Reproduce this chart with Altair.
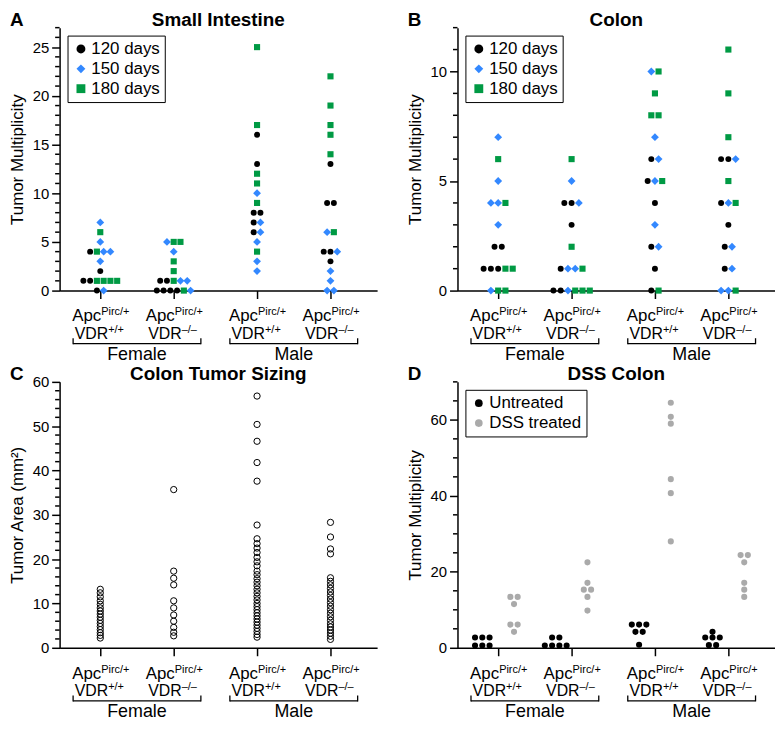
import altair as alt
import pandas as pd

FONT = "Liberation Sans"

# ---------------- categories ----------------
GENOTYPES = ["F+/+", "F-/-", "M+/+", "M-/-"]
GENO_POS = [1.0, 2.0, 3.135, 4.135]
X_DOMAIN = [0.446, 4.77]
SUP_VDR = ["+/+", "\u2013/\u2013", "+/+", "\u2013/\u2013"]
SEXES = ["Female", "Male"]

AGES = ["120 days", "150 days", "180 days"]
AGE_CODE = {"k": "120 days", "b": "150 days", "g": "180 days"}
AGE_COLORS = ["#000000", "#3388ff", "#009a44"]
AGE_SHAPES = ["circle", "diamond", "square"]
AGE_SIZES = [36, 62, 38]

TREATMENTS = ["Untreated", "DSS treated"]
TRT_COLORS = ["#000000", "#aaaaaa"]

# ---------------- A: small intestine (value -> ages, left to right) ----------------
SI_F_WT = {7: "b", 6: "g", 5: "b", 4: "kgbb", 3: "b", 2: "k", 1: "kkgggg", 0: "kb"}
SI_F_KO = {5: "bgg", 4: "b", 3: "g", 2: "g", 1: "kkgbb", 0: "kkkkgb"}
SI_M_WT = {25: "g", 17: "g", 16: "k", 13: "k", 12: "g", 11: "g", 10: "b", 9: "g",
           8: "kk", 7: "kb", 6: "kb", 5: "b", 4: "g", 3: "b", 2: "b"}
SI_M_KO = {22: "g", 19: "g", 17: "g", 16: "g", 14: "g", 13: "k", 9: "kk", 6: "bg",
           4: "kkb", 3: "k", 2: "b", 1: "b", 0: "bb"}

# ---------------- B: colon ----------------
CO_F_WT = {7: "b", 6: "g", 5: "b", 4: "bbg", 3: "b", 2: "kk", 1: "kkkgg", 0: "bgg"}
CO_F_KO = {6: "g", 5: "b", 4: "kkb", 3: "k", 2: "g", 1: "kbbg", 0: "kkbggg"}
CO_M_WT = {10: "bg", 9: "g", 8: "gg", 7: "b", 6: "kb", 5: "kbg", 4: "k", 3: "b",
           2: "kb", 1: "k", 0: "kg"}
CO_M_KO = {11: "g", 9: "g", 7: "g", 6: "kkb", 5: "g", 4: "kbg", 3: "k", 2: "kb",
           1: "kb", 0: "bbg"}

# ---------------- C: colon tumour sizing (mm^2) ----------------
SZ_F_WT = [13.2, 12.4, 11.5, 10.6, 9.8, 9.0, 8.3, 7.6, 6.9, 6.2, 5.5, 4.8, 4.1, 3.4, 2.8, 2.2]
SZ_F_KO = [35.7, 17.3, 15.7, 14.2, 10.6, 9.0, 7.4, 6.0, 4.6, 3.5, 2.7]
SZ_M_WT = [56.8, 50.4, 46.6, 41.8, 37.6, 27.7, 24.6, 23.5, 22.5, 21.5, 20.4, 19.4,
           18.5, 17.3, 16.5, 15.6, 14.8, 14.0, 13.2, 12.4, 11.6, 10.8, 10.0, 9.3,
           8.6, 7.9, 7.2, 6.5, 5.8, 5.1, 4.4, 3.7, 3.0, 2.4]
SZ_M_KO = [28.3, 25.0, 22.3, 21.2, 15.8, 15.0, 14.2, 13.4, 12.6, 11.8, 11.0, 10.2,
           9.4, 8.6, 7.8, 7.0, 6.2, 5.4, 4.7, 4.0, 3.3, 2.6, 1.9]

# ---------------- D: DSS colon (value -> number of mice) ----------------
DSS_UNT = [{2.7: 3, 0.6: 3}, {2.7: 2, 0.6: 4}, {6.1: 3, 4.2: 2, 0.8: 1}, {4.2: 1, 2.7: 3, 0.7: 2}]
DSS_TRT = [{13.4: 2, 11.5: 1, 6.1: 2, 4.2: 1},
           {22.5: 1, 17.1: 1, 15.3: 2, 13.4: 1, 9.8: 1},
           {64.5: 1, 60.8: 1, 59.0: 1, 44.4: 1, 40.7: 1, 28.0: 1},
           {24.4: 2, 22.5: 1, 17.1: 1, 15.3: 1, 13.4: 1}]
PAIR_SHIFT = 0.216

W = 320
H1 = 265
H2 = 268


def swarm(rows, pos, step):
    out = []
    for val, codes in rows.items():
        n = len(codes)
        for i, c in enumerate(codes):
            out.append({"x": pos + (i - (n - 1) / 2) * step, "y": val, "age": AGE_CODE[c]})
    return out


def swarm_count(rows, pos, step, label):
    out = []
    for val, n in rows.items():
        for i in range(n):
            out.append({"x": pos + (i - (n - 1) / 2) * step, "y": val, "trt": label})
    return out


AX = dict(domainColor="black", tickColor="black", domainWidth=1.5, tickWidth=1.5,
          tickSize=8, labelColor="black", labelFontSize=15, labelFont=FONT,
          titleFont=FONT, titleFontSize=17, titleFontWeight="normal",
          titleColor="black", grid=False)


def xenc():
    return alt.X("x:Q", scale=alt.Scale(domain=X_DOMAIN, nice=False, zero=False),
                 axis=alt.Axis(values=GENO_POS, labels=False, title=None, **AX))


def yenc(domain, majors, title):
    return alt.Y("y:Q", scale=alt.Scale(domain=domain, nice=False, zero=False),
                 axis=alt.Axis(values=majors, title=title, labelPadding=3,
                               titlePadding=6, format="d", **AX))


def minor_values(top, major, minor):
    return [v for v in range(minor, top + 1, minor) if v % major != 0]


def decorations(H, ydom, majors, minors, ytitle, title, letter):
    layers = []
    # minor ticks
    layers.append(alt.Chart(pd.DataFrame({"y": minors})).mark_rule(color="black", strokeWidth=1.5)
                  .encode(y=yenc(ydom, majors, ytitle), x=alt.value(-4.5), x2=alt.value(0)))
    lab = pd.DataFrame({"x": GENO_POS, "apc": "Apc", "pirc": "Pirc/+",
                        "vdr": "VDR", "sup": SUP_VDR})

    def txt(field, dy, size, align, dx):
        return (alt.Chart(lab).mark_text(align=align, baseline="alphabetic", fontSize=size,
                                         dx=dx, font=FONT, color="black")
                .encode(x=xenc(), y=alt.value(H + dy), text=f"{field}:N"))
    layers += [txt("apc", 31, 17, "right", 1), txt("pirc", 25, 11, "left", 1),
               txt("vdr", 49, 16, "right", 8), txt("sup", 43, 11, "left", 8)]
    ends = pd.DataFrame({"x": [GENO_POS[0] - 0.37, GENO_POS[2] - 0.37],
                         "x2": [GENO_POS[1] + 0.37, GENO_POS[3] + 0.37]})
    layers.append(alt.Chart(ends).mark_rule(color="black", strokeWidth=1.3)
                  .encode(x=xenc(), x2="x2:Q", y=alt.value(H + 53.5)))
    tk = pd.DataFrame({"x": [GENO_POS[0] - 0.37, GENO_POS[1] + 0.37,
                             GENO_POS[2] - 0.37, GENO_POS[3] + 0.37]})
    layers.append(alt.Chart(tk).mark_rule(color="black", strokeWidth=1.3)
                  .encode(x=xenc(), y=alt.value(H + 48), y2=alt.value(H + 54)))
    sx = pd.DataFrame({"x": [(GENO_POS[0] + GENO_POS[1]) / 2, (GENO_POS[2] + GENO_POS[3]) / 2],
                       "sex": SEXES})
    layers.append(alt.Chart(sx).mark_text(baseline="alphabetic", fontSize=18, font=FONT, color="black")
                  .encode(x=xenc(), y=alt.value(H + 70), text="sex:N"))
    layers.append(alt.Chart(pd.DataFrame({"t": [title]}))
                  .mark_text(baseline="middle", fontSize=19, fontWeight="bold", font=FONT, color="black")
                  .encode(x=alt.value(W / 2), y=alt.value(-8), text="t:N"))
    layers.append(alt.Chart(pd.DataFrame({"t": [letter]}))
                  .mark_text(baseline="middle", align="left", fontSize=19, fontWeight="bold",
                             font=FONT, color="black")
                  .encode(x=alt.value(-50), y=alt.value(-8), text="t:N"))
    return layers


def legend(symbol_size):
    return alt.Legend(title=None, orient="top-left", offset=8, strokeColor="black",
                      fillColor="white", padding=5, labelFontSize=17, labelFont=FONT,
                      labelColor="black", symbolSize=symbol_size, rowPadding=2, labelOffset=2,
                      symbolOpacity=1, symbolStrokeWidth=0)


def age_panel(datasets, step, H, ydom, majors, minors, ytitle, title, letter):
    rows = []
    for pos, d in zip(GENO_POS, datasets):
        rows += swarm(d, pos, step)
    df = pd.DataFrame(rows)
    pts = []
    for age, size in zip(AGES, AGE_SIZES):
        pts.append(alt.Chart(df).transform_filter(alt.datum.age == age)
                   .mark_point(filled=True, opacity=1, strokeWidth=0, size=size).encode(
            x=xenc(), y=yenc(ydom, majors, ytitle),
            color=alt.Color("age:N", scale=alt.Scale(domain=AGES, range=AGE_COLORS), legend=legend(80)),
            shape=alt.Shape("age:N", scale=alt.Scale(domain=AGES, range=AGE_SHAPES), legend=legend(80)),
        ))
    return alt.layer(*decorations(H, ydom, majors, minors, ytitle, title, letter), *pts
                     ).properties(width=W, height=H)


pA = age_panel([SI_F_WT, SI_F_KO, SI_M_WT, SI_M_KO], 0.092, H1, [0, 27], [0, 5, 10, 15, 20, 25],
               minor_values(27, 5, 1), "Tumor Multiplicity", "Small Intestine", "A")
pB = age_panel([CO_F_WT, CO_F_KO, CO_M_WT, CO_M_KO], 0.099, H1, [0, 12], [0, 5, 10],
               minor_values(12, 5, 1), "Tumor Multiplicity", "Colon", "B")

# C
rowsC = []
for pos, vals in zip(GENO_POS, [SZ_F_WT, SZ_F_KO, SZ_M_WT, SZ_M_KO]):
    rowsC += [{"x": pos, "y": v} for v in vals]
dfC = pd.DataFrame(rowsC)
ptsC = alt.Chart(dfC).mark_point(shape="circle", filled=False, color="black", size=40,
                                 strokeWidth=1, opacity=1).encode(
    x=xenc(), y=yenc([0, 60], [0, 10, 20, 30, 40, 50, 60], "Tumor Area (mm\u00b2)"))
pC = alt.layer(*decorations(H2, [0, 60], [0, 10, 20, 30, 40, 50, 60], minor_values(60, 10, 2),
                            "Tumor Area (mm\u00b2)", "Colon Tumor Sizing", "C"), ptsC
               ).properties(width=W, height=H2)

# D
rowsD = []
for pos, u, t in zip(GENO_POS, DSS_UNT, DSS_TRT):
    rowsD += swarm_count(u, pos - PAIR_SHIFT, 0.099, "Untreated")
    rowsD += swarm_count(t, pos + PAIR_SHIFT, 0.099, "DSS treated")
dfD = pd.DataFrame(rowsD)
ptsD = alt.Chart(dfD).mark_circle(size=38, opacity=1).encode(
    x=xenc(), y=yenc([0, 70], [0, 20, 40, 60], "Tumor Multiplicity"),
    color=alt.Color("trt:N", scale=alt.Scale(domain=TREATMENTS, range=TRT_COLORS), legend=legend(60)))
pD = alt.layer(*decorations(H2, [0, 70], [0, 20, 40, 60], minor_values(70, 20, 5),
                            "Tumor Multiplicity", "DSS Colon", "D"), ptsD
               ).properties(width=W, height=H2)

chart = alt.concat(pA, pB, pC, pD, columns=2, spacing={"row": 92, "column": 81}, bounds="flush"
                   ).resolve_scale(color="independent", shape="independent"
                   ).resolve_legend(color="independent", shape="independent"
                   ).configure_view(stroke=None).properties(padding=0, background="white")

chart.save("out.html", embed_options={"renderer": "svg", "actions": False})
